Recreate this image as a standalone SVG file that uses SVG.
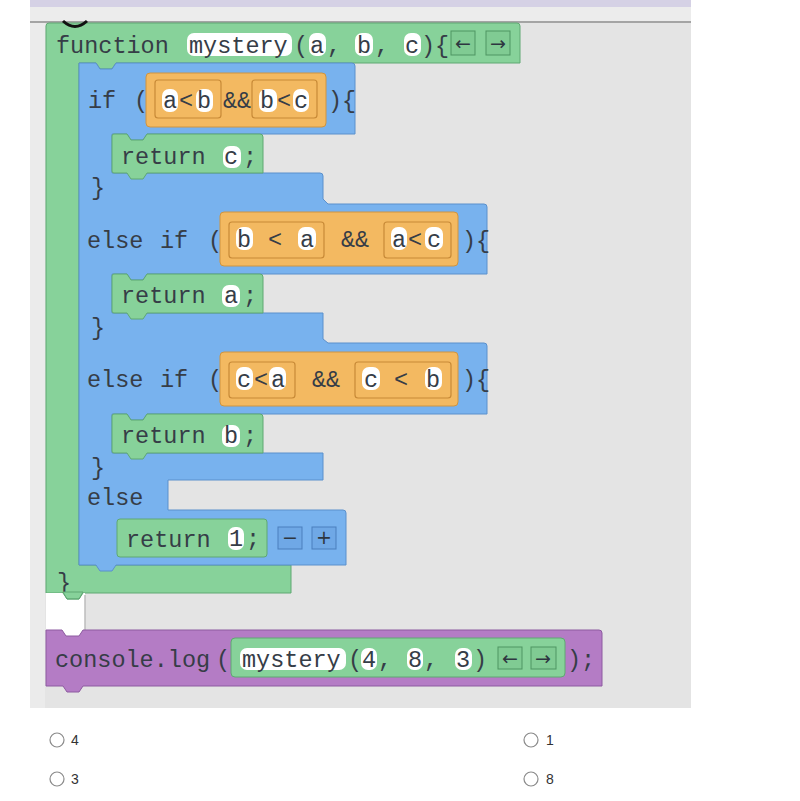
<svg xmlns="http://www.w3.org/2000/svg" width="800" height="801" viewBox="0 0 800 801">
<style>
.t{font-family:"Liberation Mono","DejaVu Sans Mono",monospace;font-size:23.5px;fill:#363d47}
.r{font-family:"Liberation Sans","DejaVu Sans",sans-serif;font-size:14px;fill:#333}
.ar{font-family:"DejaVu Sans","Liberation Sans",sans-serif;font-size:19px;fill:#2e3640;text-anchor:middle}
.hl{fill:#ffffff}
.g{fill:#87d29a;stroke:#5fa873;stroke-width:1}
.b{fill:#78b2ee;stroke:#5b90cc;stroke-width:1}
.o{fill:#f3b961;stroke:#cf9440;stroke-width:1}
.ob{fill:#f3b961;stroke:#c88a37;stroke-width:1.2}
.p{fill:#b47cc5;stroke:#8d5aa0;stroke-width:1}
.gbt{fill:#80cb93;stroke:#4f9562;stroke-width:1}
.bbt{fill:#6fa8e6;stroke:#4a7fbd;stroke-width:1}
.rad{fill:#fff;stroke:#8a8a8a;stroke-width:1.2}
</style>

<g id="workspace">
<rect x="30" y="0" width="661" height="708" fill="#e4e4e4"/>
<rect x="30" y="0" width="661" height="7" fill="#d5d1e5"/>
<rect x="30" y="7" width="661" height="14" fill="#ececec"/>
<rect x="30" y="21" width="661" height="2" fill="#a4a4a4"/>
<rect x="30" y="23" width="15" height="685" fill="#ebebeb"/>
</g>

<g id="function-block">
<path class="g" d="M49,23 H517 Q520,23 520,26 V63 H116 L112,69 H100 L96,63 H79 V565 H291 V593 H83 L79,599 H67 L63,593 H46 V26 Q46,23 49,23 Z"/>
<path d="M63,21 Q75,32 87,21" fill="none" stroke="#111" stroke-width="3"/>
<text class="t" x="56" y="53">function</text>
<rect class="hl" x="187" y="33" width="105" height="23" rx="7"/>
<text class="t" x="189" y="53">mystery</text>
<text class="t" x="294" y="53">(</text>
<rect class="hl" x="309" y="33" width="17" height="23" rx="7"/>
<text class="t" x="310" y="53">a</text>
<text class="t" x="327" y="53">,</text>
<rect class="hl" x="355" y="33" width="18" height="23" rx="7"/>
<text class="t" x="357" y="53">b</text>
<text class="t" x="375" y="53">,</text>
<rect class="hl" x="404" y="33" width="17" height="23" rx="7"/>
<text class="t" x="405" y="53">c</text>
<text class="t" x="421" y="53">){</text>
<rect class="gbt" x="451" y="31" width="24" height="24"/>
<text class="ar" x="463" y="50">←</text>
<rect class="gbt" x="486" y="31" width="24" height="24"/>
<text class="ar" x="498" y="50">→</text>
<text class="t" x="57" y="590">}</text>
</g>

<g id="if-block">
<path class="b" d="M79,63 H96 L100,69 H112 L116,63 H352 Q355,63 355,66 V134 H147 L143,140 H131 L127,134 H112 V173 H320 Q323,173 323,176 V199 L328,204 H484 Q487,204 487,207 V274 H147 L143,280 H131 L127,274 H112 V313 H323 V339 L328,343 H484 Q487,343 487,346 V414 H147 L143,420 H131 L127,414 H112 V453 H323 V480 H168 V510 H343 Q346,510 346,513 V565 H116 L112,571 H100 L96,565 H79 Z"/>
<text class="t" x="88" y="108">if</text>
<text class="t" x="134" y="108">(</text>
<text class="t" x="328" y="108">){</text>
<text class="t" x="91" y="195">}</text>
<text class="t" x="87" y="248">else</text>
<text class="t" x="160" y="248">if</text>
<text class="t" x="208" y="248">(</text>
<text class="t" x="462" y="248">){</text>
<text class="t" x="91" y="335">}</text>
<text class="t" x="87" y="387">else</text>
<text class="t" x="160" y="387">if</text>
<text class="t" x="208" y="387">(</text>
<text class="t" x="462" y="387">){</text>
<text class="t" x="91" y="475">}</text>
<text class="t" x="87" y="505">else</text>
<rect class="bbt" x="278" y="527" width="24" height="22"/>
<text class="ar" x="290" y="544">−</text>
<rect class="bbt" x="312" y="527" width="24" height="22"/>
<text class="ar" x="324" y="544">+</text>
</g>

<g id="cond-1">
<rect class="o" x="146" y="73" width="180" height="54" rx="4"/>
<rect class="ob" x="155" y="80" width="66" height="38" rx="3"/>
<rect class="hl" x="162" y="89" width="16" height="23" rx="7"/>
<text class="t" x="163" y="108">a</text>
<text class="t" x="179" y="108">&lt;</text>
<rect class="hl" x="196" y="89" width="17" height="23" rx="7"/>
<text class="t" x="197" y="108">b</text>
<text class="t" x="223" y="108">&amp;&amp;</text>
<rect class="ob" x="252" y="80" width="65" height="38" rx="3"/>
<rect class="hl" x="259" y="89" width="18" height="23" rx="7"/>
<text class="t" x="260" y="108">b</text>
<text class="t" x="277" y="108">&lt;</text>
<rect class="hl" x="293" y="89" width="16" height="23" rx="7"/>
<text class="t" x="294" y="108">c</text>
</g>

<g id="return-c">
<path class="g" d="M114,134 H127 L131,140 H143 L147,134 H260 Q263,134 263,137 V173 H147 L143,179 H131 L127,173 H114 Q112,173 112,171 V136 Q112,134 114,134 Z"/>
<text class="t" x="121" y="164">return</text>
<rect class="hl" x="223" y="146" width="18" height="22" rx="7"/>
<text class="t" x="224" y="164">c</text>
<text class="t" x="243" y="164">;</text>
</g>

<g id="cond-2">
<rect class="o" x="220" y="212" width="238" height="54" rx="4"/>
<rect class="ob" x="229" y="222" width="95" height="36" rx="3"/>
<rect class="hl" x="236" y="227" width="17" height="23" rx="7"/>
<text class="t" x="237" y="247">b</text>
<text class="t" x="268" y="247">&lt;</text>
<rect class="hl" x="298" y="227" width="18" height="23" rx="7"/>
<text class="t" x="300" y="247">a</text>
<text class="t" x="341" y="247">&amp;&amp;</text>
<rect class="ob" x="384" y="222" width="67" height="36" rx="3"/>
<rect class="hl" x="391" y="227" width="16" height="23" rx="7"/>
<text class="t" x="392" y="247">a</text>
<text class="t" x="408" y="247">&lt;</text>
<rect class="hl" x="425" y="227" width="18" height="23" rx="7"/>
<text class="t" x="427" y="247">c</text>
</g>

<g id="return-a">
<path class="g" d="M114,274 H127 L131,280 H143 L147,274 H260 Q263,274 263,277 V313 H147 L143,319 H131 L127,313 H114 Q112,313 112,311 V276 Q112,274 114,274 Z"/>
<text class="t" x="121" y="303">return</text>
<rect class="hl" x="222" y="285" width="18" height="22" rx="7"/>
<text class="t" x="224" y="303">a</text>
<text class="t" x="243" y="303">;</text>
</g>

<g id="cond-3">
<rect class="o" x="220" y="352" width="238" height="54" rx="4"/>
<rect class="ob" x="229" y="362" width="66" height="36" rx="3"/>
<rect class="hl" x="236" y="367" width="17" height="23" rx="7"/>
<text class="t" x="237" y="387">c</text>
<text class="t" x="254" y="387">&lt;</text>
<rect class="hl" x="269" y="367" width="17" height="23" rx="7"/>
<text class="t" x="271" y="387">a</text>
<text class="t" x="312" y="387">&amp;&amp;</text>
<rect class="ob" x="355" y="362" width="96" height="36" rx="3"/>
<rect class="hl" x="362" y="367" width="18" height="23" rx="7"/>
<text class="t" x="364" y="387">c</text>
<text class="t" x="394" y="387">&lt;</text>
<rect class="hl" x="425" y="367" width="17" height="23" rx="7"/>
<text class="t" x="426" y="387">b</text>
</g>

<g id="return-b">
<path class="g" d="M114,414 H127 L131,420 H143 L147,414 H260 Q263,414 263,417 V453 H147 L143,459 H131 L127,453 H114 Q112,453 112,451 V416 Q112,414 114,414 Z"/>
<text class="t" x="121" y="443">return</text>
<rect class="hl" x="222" y="425" width="18" height="22" rx="7"/>
<text class="t" x="224" y="443">b</text>
<text class="t" x="243" y="443">;</text>
</g>

<g id="return-1">
<rect class="g" x="117" y="519" width="150" height="38" rx="3"/>
<text class="t" x="126" y="547">return</text>
<rect class="hl" x="228" y="527" width="16" height="23" rx="7"/>
<text class="t" x="229" y="546">1</text>
<text class="t" x="246" y="546">;</text>
</g>

<g id="gap">
<path d="M46,593 H85 V630 H83 L79,636 H66 L62,630 H46 Z" fill="#ffffff"/>
<line x1="85" y1="595" x2="85" y2="630" stroke="#bdbdbd" stroke-width="1.5"/>
<path class="g" d="M63,592 H83 L79,599 H67 Z" stroke="none"/>
<path d="M63,593 L67,599 H79 L83,593" fill="none" stroke="#5fa873" stroke-width="1"/>
</g>

<g id="console-block">
<path class="p" d="M46,630 H62 L66,636 H79 L83,630 H599 Q602,630 602,633 V686 H83 L79,692 H67 L63,686 H46 Z"/>
<text class="t" x="55" y="667">console.log</text>
<text class="t" x="216" y="667">(</text>
<text class="t" x="567" y="667">);</text>
</g>

<g id="call-block">
<rect class="g" x="231" y="638" width="334" height="39" rx="4"/>
<rect class="hl" x="240" y="648" width="106" height="22" rx="7"/>
<text class="t" x="242" y="667">mystery</text>
<text class="t" x="348" y="667">(</text>
<rect class="hl" x="361" y="648" width="16" height="22" rx="7"/>
<text class="t" x="362" y="667">4</text>
<text class="t" x="378" y="667">,</text>
<rect class="hl" x="407" y="648" width="16" height="22" rx="7"/>
<text class="t" x="408" y="667">8</text>
<text class="t" x="424" y="667">,</text>
<rect class="hl" x="455" y="648" width="17" height="22" rx="7"/>
<text class="t" x="456" y="667">3</text>
<text class="t" x="473" y="667">)</text>
<rect class="gbt" x="498" y="647" width="24" height="22"/>
<text class="ar" x="510" y="665">←</text>
<rect class="gbt" x="531" y="647" width="25" height="22"/>
<text class="ar" x="543" y="665">→</text>
</g>

<g id="answers">
<circle class="rad" cx="57" cy="740" r="7"/>
<text class="r" x="71" y="745">4</text>
<circle class="rad" cx="57" cy="779" r="7"/>
<text class="r" x="71" y="784">3</text>
<circle class="rad" cx="531" cy="740" r="7"/>
<text class="r" x="546" y="745">1</text>
<circle class="rad" cx="531" cy="779" r="7"/>
<text class="r" x="546" y="784">8</text>
</g>
</svg>
